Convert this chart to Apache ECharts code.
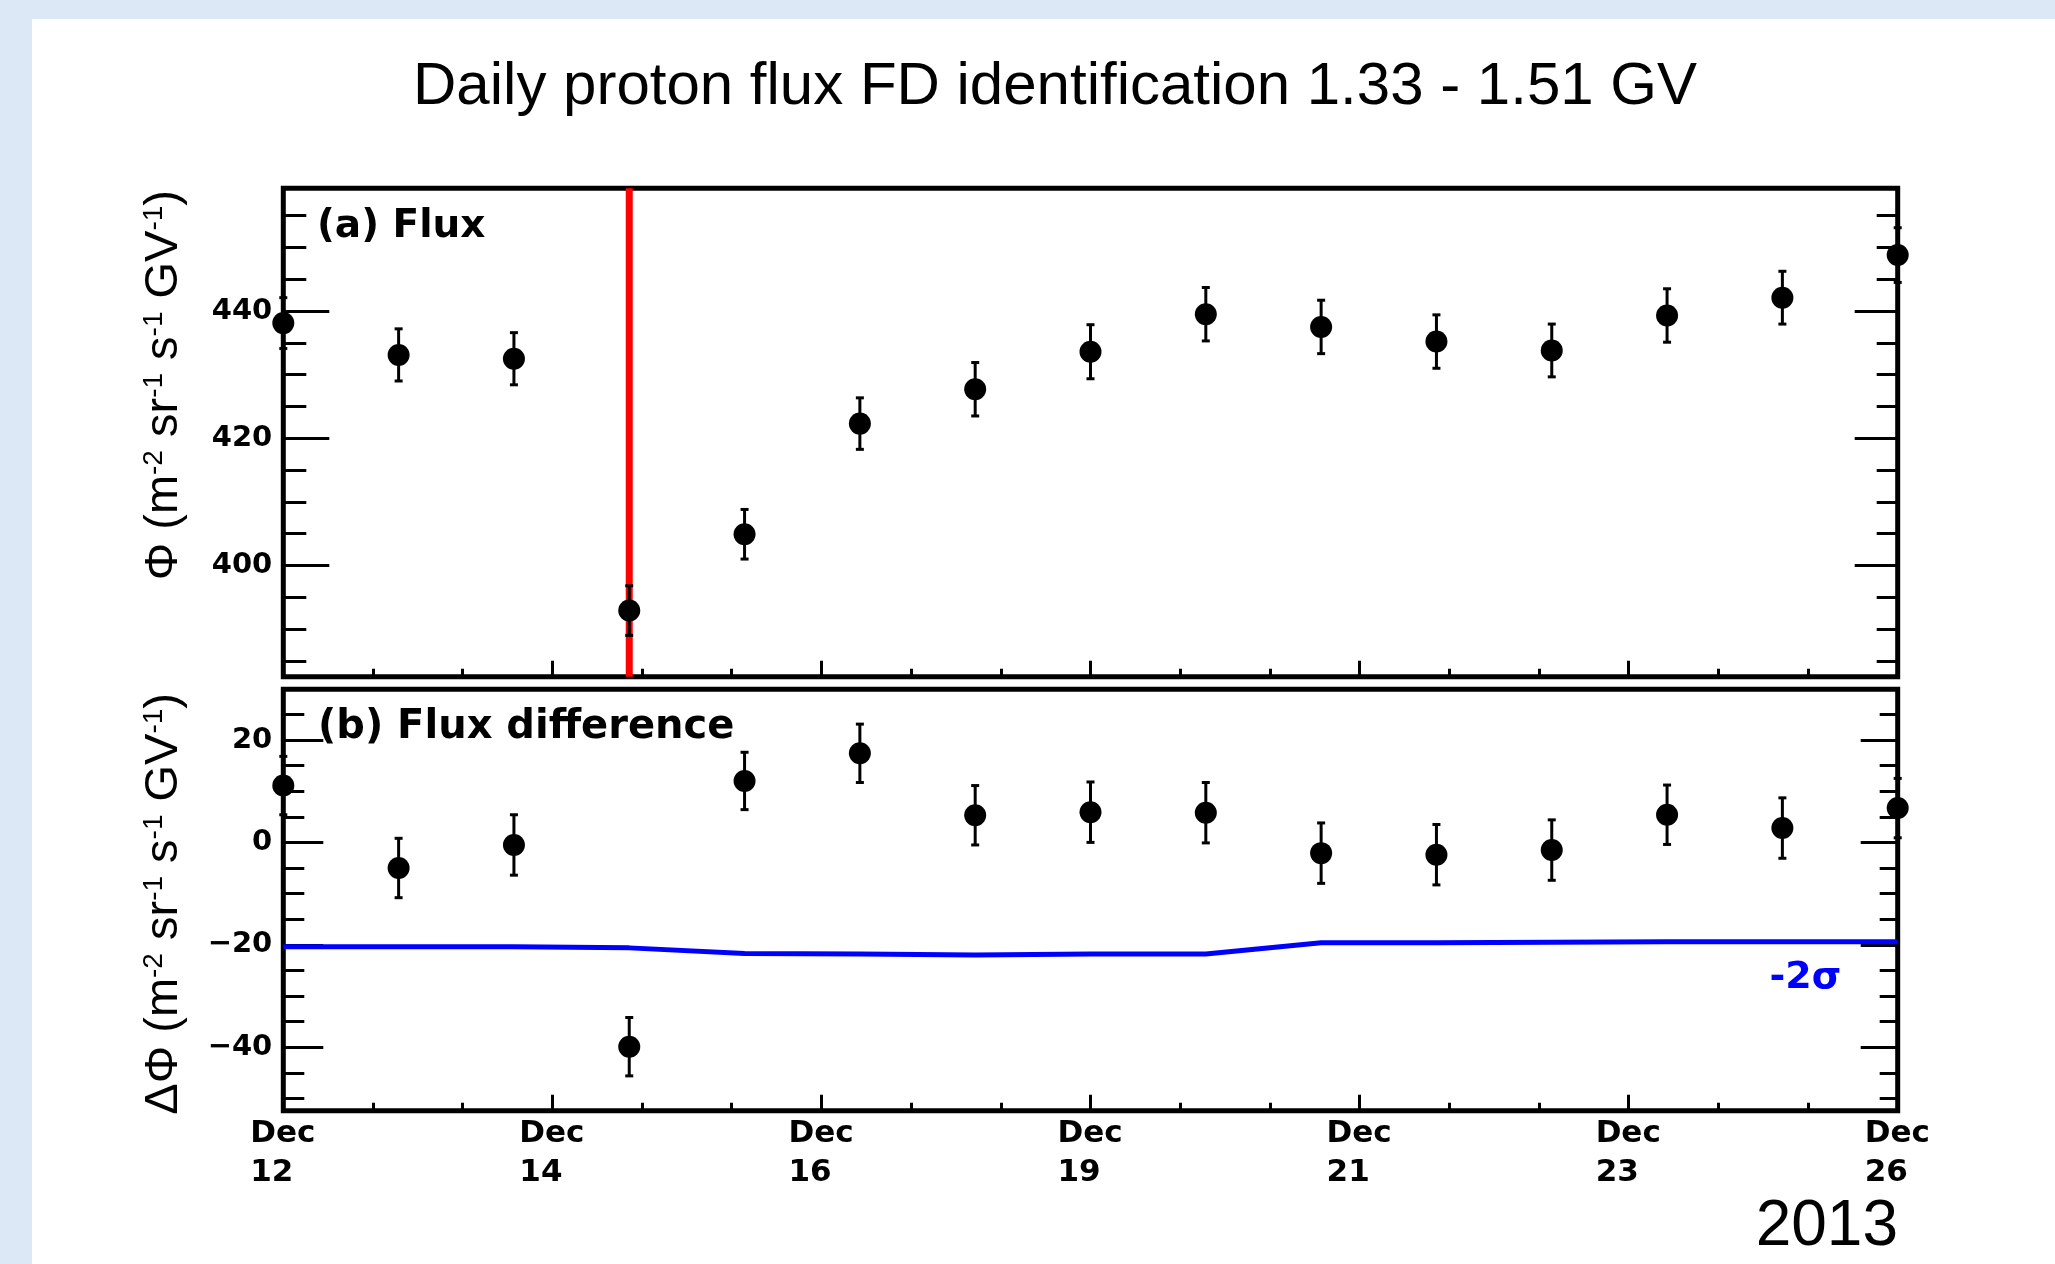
<!DOCTYPE html>
<html>
<head>
<meta charset="utf-8">
<title>Daily proton flux FD identification 1.33 - 1.51 GV</title>
<script src="https://cdn.jsdelivr.net/npm/echarts@6/dist/echarts.min.js"></script>
<style>
  html, body { margin: 0; padding: 0; background: #fff; }
  #chart { width: 2055px; height: 1264px; }
</style>
</head>
<body>
<div id="chart"></div>
<script>
// day of December 2013
var days = [12, 13, 14, 15, 16, 17, 18, 19, 20, 21, 22, 23, 24, 25, 26];

// (a) daily flux and its error
var flux = [438.1, 433.1, 432.5, 392.9, 404.9, 422.3, 427.7, 433.6, 439.5, 437.5, 435.2, 433.8, 439.3, 442.1, 448.8];
var fluxErr = [4.0, 4.1, 4.1, 3.9, 3.9, 4.05, 4.2, 4.25, 4.2, 4.2, 4.2, 4.15, 4.2, 4.15, 4.3];

// (b) flux difference, its error and the -2 sigma threshold
var diff = [11.1, -5.0, -0.5, -39.9, 12.0, 17.4, 5.3, 5.9, 5.8, -2.1, -2.4, -1.5, 5.4, 2.8, 6.7];
var diffErr = [5.7, 5.8, 5.9, 5.7, 5.6, 5.7, 5.8, 5.9, 5.9, 5.9, 5.9, 5.9, 5.8, 5.9, 5.8];
var sigmaLine = [-20.4, -20.4, -20.4, -20.6, -21.7, -21.8, -22.0, -21.8, -21.8, -19.6, -19.6, -19.5, -19.4, -19.4, -19.4];

// identified FD day
var fdDay = 15;

// axis ranges and ticks
var xMin = 12, xMax = 26;
var xMajor = [12, 14.3333, 16.6667, 19, 21.3333, 23.6667, 26];
var xLabels = ['12', '14', '16', '19', '21', '23', '26'];
var fluxMin = 382.5, fluxMax = 459.3;
var fluxTicks = [400, 420, 440];
var diffMin = -52.4, diffMax = 29.9;
var diffTicks = [-40, -20, 0, 20];

var xMinor = [];
for (var k = 1; k < 18; k++) {
  if (k % 3 !== 0) xMinor.push(xMin + k * 7 / 9);
}
function minorOf(lo, hi, majors) {
  var out = [];
  for (var v = lo; v <= hi; v += 5) {
    if (majors.indexOf(v) < 0) out.push(v);
  }
  return out;
}
var fluxMinor = minorOf(385, 455, fluxTicks);
var diffMinor = minorOf(-50, 25, diffTicks);

var boldFont = '"DejaVu Sans", sans-serif';
var normFont = '"Liberation Sans", Arial, Helvetica, sans-serif';

function nearest(arr, v) {
  var best = 0;
  for (var i = 1; i < arr.length; i++) {
    if (Math.abs(arr[i] - v) < Math.abs(arr[best] - v)) best = i;
  }
  return best;
}

function pairs(xs, ys) {
  return xs.map(function (x, i) { return [x, ys[i]]; });
}
function triples(xs, ys, es) {
  return xs.map(function (x, i) { return [x, ys[i], es[i]]; });
}

function xAxisDef(grid, ticks, len, labels) {
  return {
    gridIndex: grid, type: 'value', min: xMin, max: xMax, position: 'bottom',
    axisLine: { show: false, onZero: false },
    splitLine: { show: false },
    axisTick: { inside: true, length: len, customValues: ticks, lineStyle: { color: '#000', width: 3 } },
    axisLabel: labels ? {
      customValues: xMajor,
      margin: 4,
      formatter: function (v) {
        return '{d|Dec}\n{d|' + xLabels[nearest(xMajor, v)] + '}';
      },
      rich: {
        d: { fontFamily: boldFont, fontWeight: 'bold', fontSize: 31, color: '#000', width: 66, align: 'left', lineHeight: 39 }
      }
    } : { show: false }
  };
}

function yAxisDef(grid, lo, hi, ticks, len, pos, labels, labelTicks) {
  return {
    gridIndex: grid, type: 'value', min: lo, max: hi, position: pos,
    axisLine: { show: false, onZero: false },
    splitLine: { show: false },
    axisTick: { inside: true, length: len, customValues: ticks, lineStyle: { color: '#000', width: 3 } },
    axisLabel: labels ? {
      customValues: labelTicks,
      margin: 11,
      padding: [6, 0, 0, 0],
      fontFamily: boldFont, fontWeight: 'bold', fontSize: 29, color: '#000',
      formatter: function (v) { return String(v).replace('-', '\u2212'); }
    } : { show: false }
  };
}

function errorBars(xi, yi, data) {
  return {
    type: 'custom', xAxisIndex: xi, yAxisIndex: yi, clip: false, z: 3,
    data: data,
    renderItem: function (params, api) {
      var x = api.value(0), y = api.value(1), e = api.value(2);
      var lo = api.coord([x, y - e]);
      var hi = api.coord([x, y + e]);
      var st = { stroke: '#000', lineWidth: 3 };
      return {
        type: 'group',
        children: [
          { type: 'line', shape: { x1: lo[0], y1: lo[1], x2: hi[0], y2: hi[1] }, style: st },
          { type: 'line', shape: { x1: lo[0] - 4, y1: lo[1], x2: lo[0] + 4, y2: lo[1] }, style: st },
          { type: 'line', shape: { x1: hi[0] - 4, y1: hi[1], x2: hi[0] + 4, y2: hi[1] }, style: st }
        ]
      };
    }
  };
}

function points(xi, yi, data) {
  return {
    type: 'scatter', xAxisIndex: xi, yAxisIndex: yi, clip: false, z: 4,
    symbol: 'circle', symbolSize: 22,
    itemStyle: { color: '#000', opacity: 1 },
    emphasis: { disabled: true },
    data: data
  };
}

var chart = echarts.init(document.getElementById('chart'));

chart.setOption({
  animation: false,
  backgroundColor: '#fff',
  title: {
    text: 'Daily proton flux FD identification 1.33 - 1.51 GV',
    left: 1050, top: 52, textAlign: 'center',
    textStyle: { fontFamily: normFont, fontWeight: 'normal', fontSize: 60, color: '#000' }
  },
  grid: [
    { left: 283.3, top: 188.3, width: 1614.4, height: 488.4, show: true, borderColor: '#000', borderWidth: 5, backgroundColor: 'transparent', outerBoundsMode: 'none' },
    { left: 283.3, top: 689.3, width: 1614.4, height: 421.4, show: true, borderColor: '#000', borderWidth: 5, backgroundColor: 'transparent', outerBoundsMode: 'none' }
  ],
  xAxis: [
    xAxisDef(0, xMajor, 16, false),
    xAxisDef(0, xMinor, 8, false),
    xAxisDef(1, xMajor, 16, true),
    xAxisDef(1, xMinor, 8, false)
  ],
  yAxis: [
    yAxisDef(0, fluxMin, fluxMax, fluxTicks, 46, 'left', true, fluxTicks),
    yAxisDef(0, fluxMin, fluxMax, fluxMinor, 23, 'left', false),
    yAxisDef(0, fluxMin, fluxMax, fluxTicks, 43, 'right', false),
    yAxisDef(0, fluxMin, fluxMax, fluxMinor, 21, 'right', false),
    yAxisDef(1, diffMin, diffMax, diffTicks, 40, 'left', true, diffTicks),
    yAxisDef(1, diffMin, diffMax, diffMinor, 21, 'left', false),
    yAxisDef(1, diffMin, diffMax, diffTicks, 37, 'right', false),
    yAxisDef(1, diffMin, diffMax, diffMinor, 18, 'right', false)
  ],
  series: [
    {
      type: 'line', xAxisIndex: 0, yAxisIndex: 0, z: 2,
      symbol: 'none',
      lineStyle: { color: '#ff0000', width: 7 },
      data: [[fdDay, fluxMin], [fdDay, fluxMax]]
    },
    errorBars(0, 0, triples(days, flux, fluxErr)),
    points(0, 0, pairs(days, flux)),
    {
      type: 'line', xAxisIndex: 2, yAxisIndex: 4, z: 2,
      symbol: 'none',
      lineStyle: { color: '#0000ff', width: 5 },
      data: pairs(days, sigmaLine),
      markPoint: {
        symbol: 'circle', symbolSize: 0,
        label: {
          show: true, position: 'inside', formatter: '-2\u03c3',
          fontFamily: boldFont, fontWeight: 'bold', fontSize: 38, color: '#0000ff'
        },
        data: [{ coord: [25.2, -26.5] }]
      }
    },
    errorBars(2, 4, triples(days, diff, diffErr)),
    points(2, 4, pairs(days, diff))
  ],
  graphic: [
    { type: 'rect', z: -10, shape: { x: 0, y: 0, width: 2055, height: 19 }, style: { fill: '#dce8f5' } },
    { type: 'rect', z: -10, shape: { x: 0, y: 0, width: 32, height: 1264 }, style: { fill: '#dce8f5' } },
    {
      type: 'text', x: 317, y: 227,
      style: { text: '(a) Flux', fontFamily: boldFont, fontWeight: 'bold', fontSize: 39, fill: '#000', align: 'left', verticalAlign: 'middle' }
    },
    {
      type: 'text', x: 318, y: 728,
      style: { text: '(b) Flux difference', fontFamily: boldFont, fontWeight: 'bold', fontSize: 40, fill: '#000', align: 'left', verticalAlign: 'middle' }
    },
    {
      type: 'text', x: 164, y: 190, rotation: Math.PI / 2,
      style: {
        text: '\u03a6 (m{s|-2} sr{s|-1} s{s|-1} GV{s|-1})',
        fontFamily: normFont, fontSize: 47, lineHeight: 47, fill: '#000', align: 'right', verticalAlign: 'middle',
        rich: { s: { fontFamily: normFont, fontSize: 28, lineHeight: 28, verticalAlign: 'top', fill: '#000' } }
      }
    },
    {
      type: 'text', x: 164, y: 693, rotation: Math.PI / 2,
      style: {
        text: '\u0394\u03a6 (m{s|-2} sr{s|-1} s{s|-1} GV{s|-1})',
        fontFamily: normFont, fontSize: 47, lineHeight: 47, fill: '#000', align: 'right', verticalAlign: 'middle',
        rich: { s: { fontFamily: normFont, fontSize: 28, lineHeight: 28, verticalAlign: 'top', fill: '#000' } }
      }
    },
    {
      type: 'text', x: 1898, y: 1227,
      style: { text: '2013', fontFamily: normFont, fontSize: 64, fill: '#000', align: 'right', verticalAlign: 'middle' }
    }
  ]
});
</script>
</body>
</html>
